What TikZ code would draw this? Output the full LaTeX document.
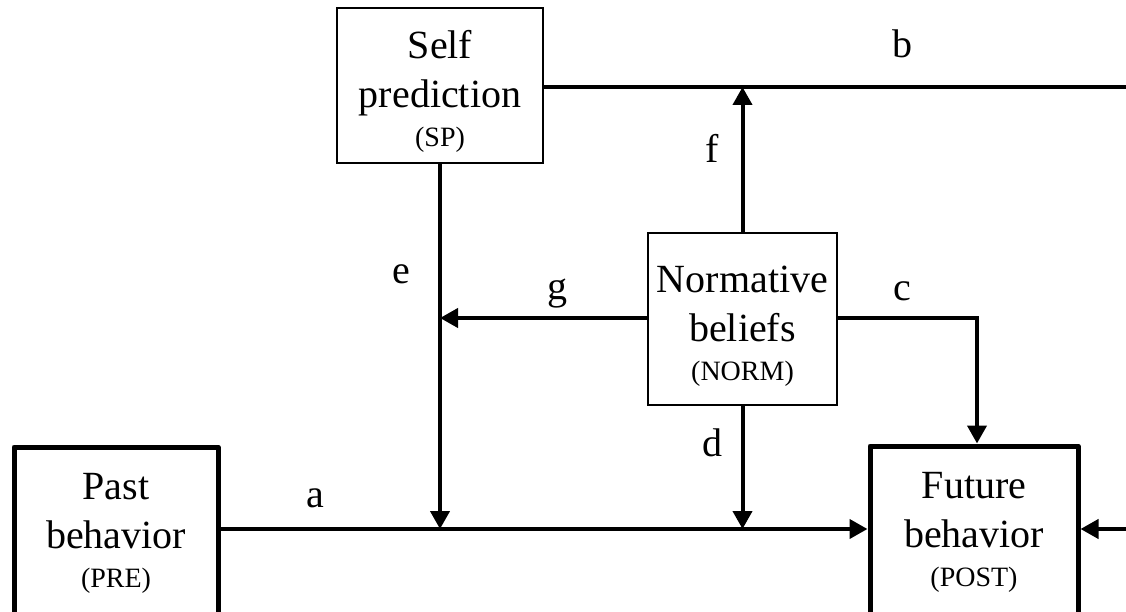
\documentclass[tikz,border=0pt]{standalone}
\usepackage{fontspec}
\setmainfont{Liberation Serif}
\usetikzlibrary{arrows.meta}
\tikzset{
  box/.style={draw,line width=1.7pt,align=center,inner sep=0pt,font=\fontsize{40}{49}\selectfont},
  bbox/.style={box,line width=5pt,line join=round},
  ln/.style={line width=4pt},
  arr/.style={ln,-{Triangle[length=18pt,width=19pt]}},
  lbl/.style={font=\fontsize{40}{48}\selectfont,inner sep=0pt}
}
\newcommand{\abbr}[1]{\\[-10pt]{\fontsize{28}{30}\selectfont(#1)}}
\newcommand{\tstrut}{\rule{0pt}{40pt}}

\begin{document}
\begin{tikzpicture}[x=1pt,y=-1pt]
\useasboundingbox (0,0) rectangle (1126,612);
\node[box,minimum width=206pt,minimum height=155pt] (sp) at (440,85.5) {\tstrut Self\\prediction\abbr{SP}};
\node[box,minimum width=189pt,minimum height=172pt] (norm) at (742.5,319) {\tstrut Normative\\beliefs\abbr{NORM}};
\node[bbox,minimum width=204pt,minimum height=172pt] (pre) at (116,533) {Past\\behavior\abbr{PRE}};
\node[bbox,minimum width=208pt,minimum height=172pt] (post) at (974,532) {Future\\behavior\abbr{POST}};
\coordinate (jf) at (742.5,87); \coordinate (je) at (440,529); \coordinate (jd) at (742.5,529);
\coordinate (jg) at (440,318); \coordinate (outb) at (1126,87); \coordinate (inr) at (1126,529);
\coordinate (cc) at (977,318);
\draw[arr] (pre.east |- je) -- (post.west |- je); \node[lbl] (la) at (315,498) {a};
\draw[ln] (sp.east |- jf) -- (outb); \node[lbl] (lb) at (902,44) {b};
\draw[arr] (norm.east |- cc) -- (cc) -- (cc |- post.north); \node[lbl] (lc) at (902,291) {c};
\draw[arr] (norm.south) -- (jd); \node[lbl] (ld) at (712,443) {d};
\draw[arr] (sp.south) -- (je); \node[lbl] (le) at (401,274) {e};
\draw[arr] (norm.north) -- (jf); \node[lbl] (lf) at (712,148) {f};
\draw[arr] (norm.west |- jg) -- (jg); \node[lbl] (lg) at (557,294) {g};
\draw[arr] (inr) -- (post.east |- inr);
\end{tikzpicture}
\end{document}
